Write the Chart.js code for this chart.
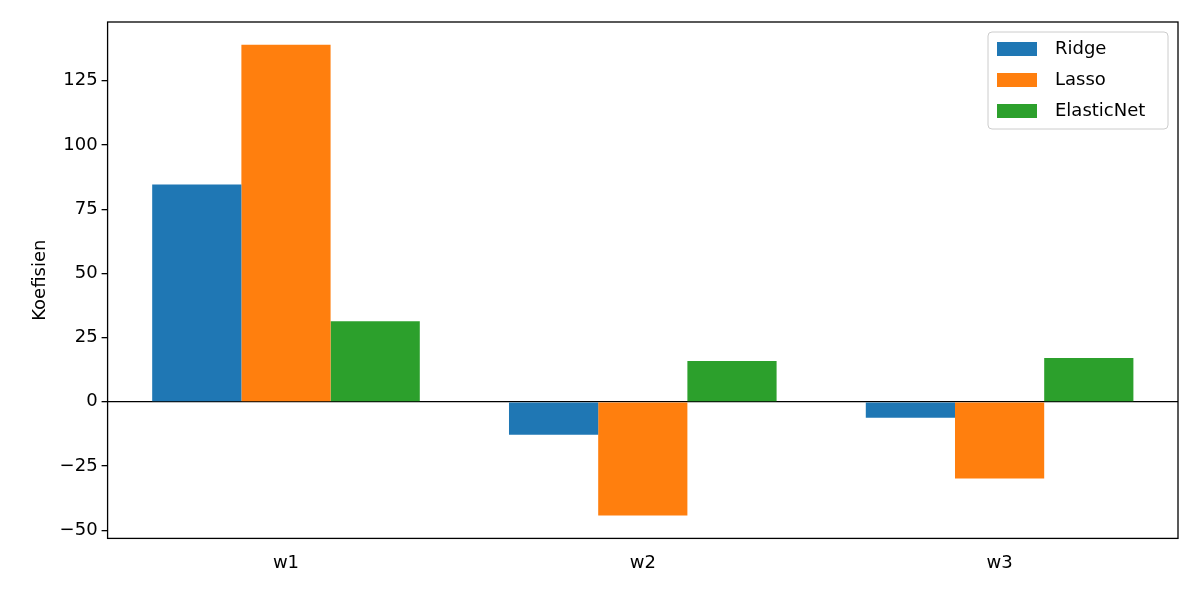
<!DOCTYPE html>
<html><head><meta charset="utf-8">
<script src="https://cdn.jsdelivr.net/npm/chart.js@4"></script>
<style>html,body{margin:0;background:#fff}#wrap{width:1200px;height:600px}</style>
</head><body><div id="wrap"><canvas id="c"></canvas></div>
<script>
const categories = ["w1", "w2", "w3"];
const ridge = [84.6, -12.8, -6.2];
const lasso = [139.0, -44.3, -29.9];
const elastic = [31.4, 15.9, 17.1];
const yTicks = [-50, -25, 0, 25, 50, 75, 100, 125];

const FONT = "'DejaVu Sans', sans-serif";

// frame + legend drawn inside plot area
const frame = {
  id: "frame",
  afterDraw(chart){
    const {ctx, chartArea:a} = chart;
    ctx.save();
    ctx.strokeStyle = "#000"; ctx.lineWidth = 1.3;
    ctx.strokeRect(a.left, a.top, a.right - a.left, a.bottom - a.top);
    // legend
    const items = chart.data.datasets;
    const w = 180, h = 97, x = a.right - w - 10, y = a.top + 10;
    ctx.fillStyle = "rgba(255,255,255,0.8)"; ctx.strokeStyle = "#ccc"; ctx.lineWidth = 1;
    ctx.beginPath(); ctx.roundRect(x, y, w, h, 4); ctx.fill(); ctx.stroke();
    ctx.font = "18px " + FONT; ctx.textBaseline = "middle"; ctx.fillStyle = "#000";
    items.forEach((d, i) => {
      const yy = y + 17 + i * 31;
      ctx.fillStyle = d.backgroundColor;
      ctx.fillRect(x + 9, yy - 7, 40, 14);
      ctx.fillStyle = "#000";
      ctx.fillText(d.label, x + 67, yy);
    });
    ctx.restore();
  }
};

new Chart(document.getElementById("c"), {
  type: "bar",
  data: {
    labels: categories,
    datasets: [
      {label: "Ridge", data: ridge, backgroundColor: "#1f77b4"},
      {label: "Lasso", data: lasso, backgroundColor: "#ff7f0e"},
      {label: "ElasticNet", data: elastic, backgroundColor: "#2ca02c"},
    ]
  },
  options: {
    responsive: true, maintainAspectRatio: false, animation: false,
    layout: {padding: {top: 22, right: 22, left: 26, bottom: 20}},
    datasets: {bar: {barPercentage: 1.0, categoryPercentage: 0.75, borderWidth: 0}},
    plugins: {legend: {display: false}, tooltip: {enabled: false}},
    scales: {
      x: {
        grid: {display: false, drawTicks: true},
        border: {display: false},
        ticks: {color: "#000", font: {size: 18, family: FONT}, padding: 6}
      },
      y: {
        min: -53.2, max: 147.9,
        afterBuildTicks: s => { s.ticks = yTicks.map(v => ({value: v})); },
        border: {display: false},
        grid: {
          drawOnChartArea: true, drawTicks: true, tickLength: 6, tickColor: "#000",
          color: c => c.tick && c.tick.value === 0 ? "#000" : "rgba(0,0,0,0)",
          lineWidth: 1.3
        },
        ticks: {color: "#000", font: {size: 18, family: FONT}, padding: 4,
          callback: v => String(v).replace("-", "\u2212")},
        title: {display: true, text: "Koefisien", color: "#000", font: {size: 18, family: FONT}}
      }
    }
  },
  plugins: [frame]
});
</script></body></html>
